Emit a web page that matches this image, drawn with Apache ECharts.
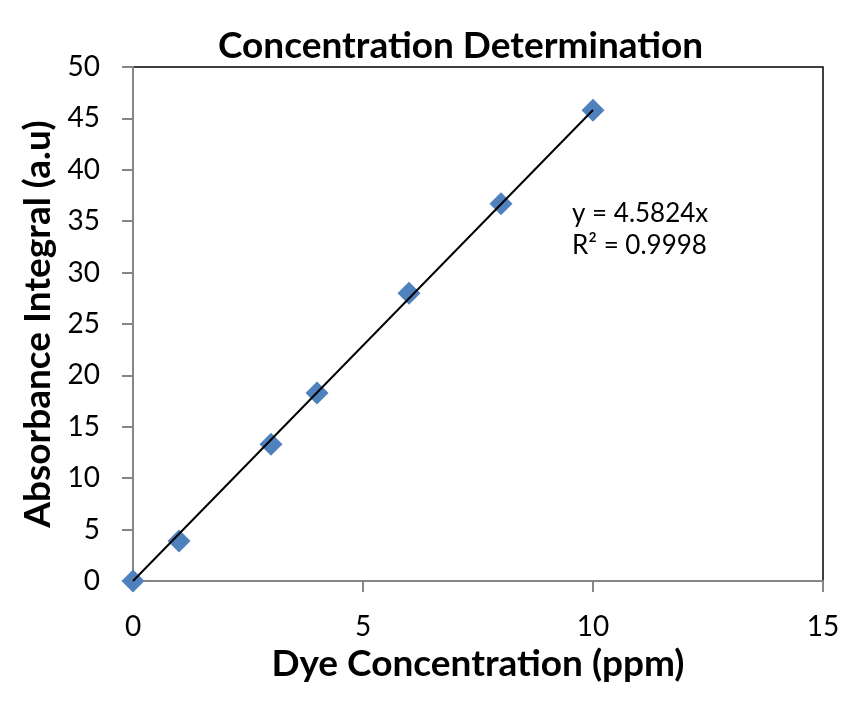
<!DOCTYPE html>
<html><head><meta charset="utf-8">
<script src="https://cdn.jsdelivr.net/npm/echarts@6/dist/echarts.min.js"></script>
<style>html,body{margin:0;padding:0;background:#fff}#c{width:865px;height:712px}</style>
</head><body><div id="c"></div>
<script>
const dyeConc = [0, 1, 3, 4, 6, 8, 10];
const absorbance = [0, 3.9, 13.3, 18.3, 28.0, 36.7, 45.8];
const slope = 4.5824;
const trendX = [0, 10];
const eqText = 'y = 4.5824x';
const r2Text = 'R² = 0.9998';
const FONT = 'Lato, "Open Sans", sans-serif';

const chart = echarts.init(document.getElementById('c'));
chart.setOption({
  backgroundColor: '#fff',
  animation: false,
  title: {
    text: 'Concentration Determination', left: 213, top: 23,
    textStyle: { fontFamily: FONT, fontWeight: 'bold', fontSize: 37, color: '#000' }
  },
  grid: { left: 133, right: 42, top: 67, bottom: 131, show: true, borderColor: '#000', borderWidth: 1.5, backgroundColor: '#fff' },
  xAxis: {
    type: 'value', min: 0, max: 15, interval: 5,
    name: 'Dye Concentration (ppm)', nameLocation: 'middle', nameGap: 63,
    nameTextStyle: { fontFamily: FONT, fontWeight: 'bold', fontSize: 37, color: '#000' },
    axisLine: { show: true, lineStyle: { color: '#868686', width: 2 } },
    axisTick: { show: true, length: 11, lineStyle: { color: '#868686', width: 2 } },
    axisLabel: { fontFamily: FONT, fontSize: 28, color: '#000', margin: 32 },
    splitLine: { show: false }
  },
  yAxis: {
    type: 'value', min: 0, max: 50, interval: 5,
    name: 'Absorbance Integral (a.u)', nameLocation: 'middle', nameGap: 74,
    nameTextStyle: { fontFamily: FONT, fontWeight: 'bold', fontSize: 37, color: '#000' },
    axisLine: { show: true, lineStyle: { color: '#868686', width: 2 } },
    axisTick: { show: true, length: 11, lineStyle: { color: '#868686', width: 2 } },
    axisLabel: { fontFamily: FONT, fontSize: 28, color: '#000', margin: 33 },
    splitLine: { show: false }
  },
  series: [
    {
      type: 'line', data: trendX.map(x => [x, slope * x]), showSymbol: false, z: 3,
      lineStyle: { color: '#000', width: 2 }, silent: true
    },
    {
      type: 'scatter', data: dyeConc.map((x, i) => [x, absorbance[i]]), z: 2,
      symbol: 'diamond', symbolSize: 23, itemStyle: { color: '#4F81BD', opacity: 1 }
    }
  ],
  graphic: [
    { type: 'text', left: 572, top: 201, style: { text: eqText, font: '26px ' + FONT, fill: '#000' } },
    { type: 'text', left: 572, top: 233, style: { text: r2Text, font: '26px ' + FONT, fill: '#000' } }
  ]
});
</script></body></html>
